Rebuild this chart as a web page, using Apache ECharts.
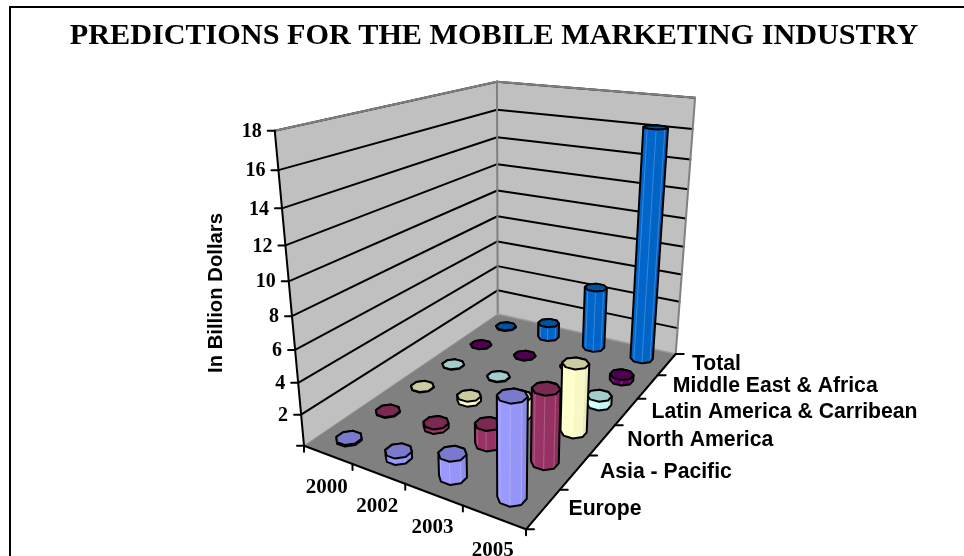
<!DOCTYPE html>
<html>
<head>
<meta charset="utf-8">
<style>html,body{margin:0;padding:0;background:#fff}#chart{width:964px;height:556px}</style>
<script src="https://cdn.jsdelivr.net/npm/echarts@6/dist/echarts.min.js"></script>
</head>
<body>
<div id="chart"></div>
<script>
// Revenue forecast, billions of dollars, one list per region (2000, 2002, 2003, 2005)
const years = ['2000', '2002', '2003', '2005'];
const regions = ['Europe', 'Asia - Pacific', 'North America', 'Latin America & Carribean', 'Middle East & Africa', 'Total'];
const europe = [0.1, 0.4, 1.4, 5.8];
const asiaPacific = [0.05, 0.3, 1.3, 4.5];
const northAmerica = [0.03, 0.35, 1.3, 4.4];
const latinAmerica = [0.03, 0.05, 0.2, 0.6];
const middleEast = [0.02, 0.03, 0.1, 0.4];
const total = [0.05, 1.1, 4.6, 16.2];
const yTicks = [2, 4, 6, 8, 10, 12, 14, 16, 18];

const regionSeries = [
  { values: europe, body: '#9999FF', top: '#7A7ACC' },
  { values: asiaPacific, body: '#993366', top: '#7A2952' },
  { values: northAmerica, body: '#FFFFCC', top: '#CCCCA3' },
  { values: latinAmerica, body: '#CCFFFF', top: '#A3CCCC' },
  { values: middleEast, body: '#660066', top: '#520052' },
  { values: total, body: '#0066CC', top: '#0052A3' }
];

// Perspective box: floor corners and the height of the back corner, in page pixels
const W = 964, H = 556;
const floorLeft = [304, 445.7], floorFront = [526, 529.3], floorRight = [675.7, 354], floorBack = [497.7, 314];
const backTopY = 81.7;
const vanish = [505, 2611];
const rightWallTrim = 0.019;

const [x0, y0] = floorLeft, [x1, y1] = floorFront, [x2, y2] = floorRight, [x3, y3] = floorBack;
const dx1 = x1 - x2, dx2 = x3 - x2, sx = x0 - x1 + x2 - x3;
const dy1 = y1 - y2, dy2 = y3 - y2, sy = y0 - y1 + y2 - y3;
const den = dx1 * dy2 - dx2 * dy1;
const g = (sx * dy2 - dx2 * sy) / den, h = (dx1 * sy - sx * dy1) / den;
const a = x1 - x0 + g * x1, b = x3 - x0 + h * x3, c = x0;
const d = y1 - y0 + g * y1, e = y3 - y0 + h * y3, f = y0;
const k = ((e + f) - backTopY * (h + 1)) / (backTopY - vanish[1]);

// u runs along the years, v from the front row to the back wall, w up the value axis
function project(u, v, w) {
  const wt = w * (1 - rightWallTrim * u * v);
  const q = g * u + h * v + 1 + k * wt;
  return [(a * u + b * v + c + k * vanish[0] * wt) / q, (d * u + e * v + f + k * vanish[1] * wt) / q];
}

function hull(points) {
  const p = points.slice().sort((m, n) => m[0] - n[0] || m[1] - n[1]);
  const cross = (o, m, n) => (m[0] - o[0]) * (n[1] - o[1]) - (m[1] - o[1]) * (n[0] - o[0]);
  const lower = [], upper = [];
  for (const pt of p) {
    while (lower.length > 1 && cross(lower[lower.length - 2], lower[lower.length - 1], pt) <= 0) lower.pop();
    lower.push(pt);
  }
  for (const pt of p.reverse()) {
    while (upper.length > 1 && cross(upper[upper.length - 2], upper[upper.length - 1], pt) <= 0) upper.pop();
    upper.push(pt);
  }
  return lower.slice(0, -1).concat(upper.slice(0, -1));
}

function shade(hex, t) {
  const n = parseInt(hex.slice(1), 16);
  const ch = s => Math.round(((n >> s) & 255) * t);
  return `rgb(${ch(16)},${ch(8)},${ch(0)})`;
}

const wOf = (api, val) => 1 - api.coord([0, val])[1] / H;
const line = (p, q, color, width) => ({
  type: 'line', shape: { x1: p[0], y1: p[1], x2: q[0], y2: q[1] },
  style: { stroke: color, lineWidth: width, lineCap: 'round' }
});
const poly = (pts, fill, stroke, width) => ({
  type: 'polygon', shape: { points: pts },
  style: { fill: fill, stroke: stroke || null, lineWidth: width || 0, lineJoin: 'round' }
});
const label = (text, x, y, font, align) => ({
  type: 'text', x: x, y: y,
  style: { text: text, font: font, fill: '#000', align: align, verticalAlign: 'middle' }
});

// Walls, floor, gridlines, tick marks and the three axes' labels
function renderFrame(params, api) {
  const top = wOf(api, 18), kids = [];
  const tickFont = 'bold 20px "Liberation Serif"', yearFont = 'bold 21px "Liberation Serif"', sans = 'bold 21.2px "Liberation Sans"';
  kids.push(poly([project(0, 0, 0), project(0, 1, 0), project(0, 1, top), project(0, 0, top)], '#C0C0C0'));
  kids.push(poly([project(0, 1, 0), project(1, 1, 0), project(1, 1, top), project(0, 1, top)], '#C0C0C0'));
  kids.push(poly([floorLeft, floorFront, floorRight, floorBack], '#808080'));
  yTicks.forEach(t => {
    const w = wOf(api, t);
    kids.push(line(project(0, 0, w), project(0, 1, w), '#000', 2));
    kids.push(line(project(0, 1, w), project(1, 1, w), '#000', 2));
  });
  kids.push(line(project(0, 0, top), project(0, 1, top), '#808080', 2));
  kids.push(line(project(0, 1, top), project(1, 1, top), '#808080', 2));
  kids.push(line(project(0, 1, 0), project(0, 1, top), '#808080', 2));
  kids.push(line(project(1, 1, 0), project(1, 1, top), '#808080', 2));
  kids.push(line(floorBack, floorRight, '#9a9a9a', 1.5));
  kids.push(line(floorLeft, floorBack, '#9a9a9a', 1));
  kids.push(line(project(0, 0, 0), project(0, 0, top), '#000', 2));
  kids.push(line(floorLeft, floorFront, '#000', 2));
  kids.push(line(floorFront, floorRight, '#000', 2));
  [0].concat(yTicks).forEach(t => {
    const p = project(0, 0, wOf(api, t));
    kids.push(line([p[0] - 7, p[1]], p, '#000', 2));
    if (t > 0) kids.push(label(String(t), p[0] - 13, p[1] + 1, tickFont, 'right'));
  });
  for (let i = 0; i <= years.length; i++) {
    const p = project(i / years.length, 0, 0);
    kids.push(line(p, [p[0], p[1] + 6], '#000', 2));
  }
  years.forEach((yr, i) => {
    const p = project((i + 0.5) / years.length, 0, 0);
    kids.push(label(yr, p[0] - 1, p[1] + 33, yearFont, 'center'));
  });
  for (let j = 0; j <= regions.length; j++) {
    const p = project(1, j / regions.length, 0);
    kids.push(line(p, [p[0] + 8, p[1]], '#000', 2));
  }
  regions.forEach((name, j) => {
    const p = project(1, (j + 0.5) / regions.length, 0);
    kids.push(label(name, p[0] + 25, p[1], sans, 'left'));
  });
  return { type: 'group', children: kids };
}

// One cylinder: shaded facets standing on a floor cell, capped with a darker top
const SIDES = 8, RADIUS = 0.21;
function renderCylinder(rowIndex, colors, params, api) {
  const col = api.value(0), val = api.value(1);
  const uc = (api.coord([col, 0])[0]) / W;
  const vc = (rowIndex + 0.5) / regions.length;
  const w = wOf(api, val);
  const base = [], cap = [];
  for (let i = 0; i < SIDES; i++) {
    const t = (i + 0.5) / SIDES * Math.PI * 2;
    const u = uc + Math.cos(t) * RADIUS / years.length;
    const v = vc + Math.sin(t) * RADIUS / regions.length;
    base.push(project(u, v, 0));
    cap.push(project(u, v, w));
  }
  const kids = [];
  const outline = hull(base.concat(cap));
  const midX = base.reduce((sum, pt) => sum + pt[0], 0) / SIDES;
  kids.push(poly(outline, colors.body));
  for (let i = 0; i < SIDES; i++) {
    const j = (i + 1) % SIDES;
    if (base[j][0] <= base[i][0]) continue;
    const side = ((base[i][0] + base[j][0]) / 2 - midX) / 14;
    const tone = side > 0 ? 1 - 0.1 * side : 1;
    kids.push(poly([base[i], base[j], cap[j], cap[i]], shade(colors.body, tone)));
    kids.push(line(base[i], cap[i], 'rgba(255,255,255,0.22)', 1));
  }
  kids.push(poly(outline, 'transparent', '#000', 2));
  kids.push(poly(cap, colors.top, '#000', 2));
  return { type: 'group', children: kids };
}

const series = [{
  type: 'custom', name: 'frame', data: [[0, 0]], clip: false, silent: true,
  renderItem: renderFrame
}];
// Back row first so nearer cylinders paint over farther ones
regionSeries.map((s, j) => ({ s, j })).reverse().forEach(({ s, j }) => {
  series.push({
    type: 'custom', name: regions[j], clip: false, silent: true,
    data: s.values.map((v, i) => [i, v]),
    renderItem: (params, api) => renderCylinder(j, s, params, api)
  });
});

const chart = echarts.init(document.getElementById('chart'), null, { renderer: 'canvas' });
chart.setOption({
  animation: false,
  backgroundColor: '#fff',
  title: {
    text: 'PREDICTIONS FOR THE MOBILE MARKETING INDUSTRY',
    left: 494, top: 21, padding: 0, textAlign: 'center',
    textStyle: { fontFamily: 'Liberation Serif', fontWeight: 'bold', fontSize: 30.2, color: '#000' }
  },
  // The plane behind the box supplies the year and value scales
  grid: { left: 0, right: 0, top: 0, bottom: 0, show: false },
  xAxis: { type: 'category', data: years, show: false },
  yAxis: { type: 'value', min: 0, max: 18, show: false },
  graphic: [
    { type: 'polyline', shape: { points: [[10, 560], [10, 7], [970, 7]] }, style: { fill: 'none', stroke: '#000', lineWidth: 2 }, z: 10, silent: true },
    { type: 'text', x: 216, y: 293, rotation: Math.PI / 2, style: { text: 'In Billion Dollars', font: 'bold 20.3px "Liberation Sans"', fill: '#000', align: 'center', verticalAlign: 'middle' }, silent: true }
  ],
  series: series
});
</script>
</body>
</html>
